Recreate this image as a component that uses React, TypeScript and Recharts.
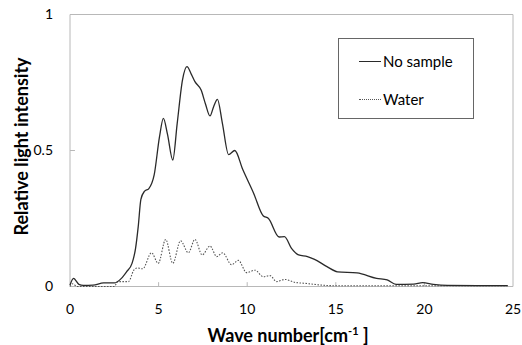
import * as React from "react";
import {
  LineChart,
  Line,
  XAxis,
  YAxis,
  ReferenceArea,
  ReferenceLine,
  Label
} from "recharts";

// wave number [cm-1] / relative intensity
const noSampleX = [
  0, 0.2, 0.5, 0.75, 1.3, 1.9, 2.5, 2.9, 3.2, 3.5, 3.7, 3.85, 4.0, 4.2, 4.45,
  4.75, 5.05, 5.27, 5.5, 5.8, 6.05, 6.35, 6.6, 6.85, 7.05, 7.4, 7.65, 7.9,
  8.1, 8.32, 8.6, 8.95, 9.3, 9.75, 10.35, 10.9, 11.2, 11.8, 12.1, 12.5, 12.9,
  13.4, 13.8, 14.5, 15.1, 16.2, 17.3, 17.9, 18.4, 19.4, 19.9, 20.5, 21.3, 23,
  24.7
];
const noSampleY = [
  0.005, 0.03, 0.008, 0.004, 0.005, 0.013, 0.013, 0.03, 0.055, 0.085, 0.14,
  0.22, 0.32, 0.35, 0.36, 0.41, 0.55, 0.618, 0.56, 0.465, 0.6, 0.76, 0.808,
  0.78, 0.753, 0.722, 0.67, 0.627, 0.66, 0.688, 0.6, 0.485, 0.5, 0.43, 0.345,
  0.26, 0.25, 0.182, 0.183, 0.14, 0.116, 0.11, 0.1, 0.073, 0.054, 0.05, 0.03,
  0.024, 0.008, 0.009, 0.014, 0.008, 0.004, 0.003, 0.003
];

const waterX = [
  0, 0.15, 0.4, 2.5, 2.7, 3.3, 3.6, 3.8, 4.1, 4.6, 4.98, 5.4, 5.8, 6.24, 6.68,
  7.05, 7.46, 7.9, 8.28, 8.62, 9.12, 9.5, 9.97, 10.44, 10.9, 11.29, 11.66,
  12.13, 12.7, 13.2, 14.85, 24.7
];
const waterY = [
  0, 0.01, 0, 0, 0.018, 0.018, 0.06, 0.068, 0.065, 0.124, 0.085, 0.173, 0.085,
  0.168, 0.124, 0.173, 0.116, 0.149, 0.11, 0.124, 0.08, 0.096, 0.051, 0.06,
  0.036, 0.04, 0.018, 0.026, 0.015, 0.012, 0.003, 0.003
];

const xTicks = [0, 5, 10, 15, 20, 25];
const yTicks = [0, 0.5, 1];
const xTickMarks = [5, 10, 15, 20];
const yTickMarks = [0.5];

const noSample = noSampleX.map((x, i) => ({ x, v: noSampleY[i] }));
const water = waterX.map((x, i) => ({ x, v: waterY[i] }));

const font = "Lato, 'Open Sans', sans-serif";
const frame = "#b8b8b8";

function XTitle(props: any) {
  const vb = props.viewBox;
  return (
    <text
      x={vb.x + vb.width / 2 - 3.5}
      y={vb.y + 55}
      textAnchor="middle"
      fontFamily={font}
      fontWeight="bold"
      fontSize={18}
      fill="#000"
    >
      <tspan>Wave number[cm</tspan>
      <tspan dy={-7} fontSize={11}>-1</tspan>
      <tspan dy={7}> ]</tspan>
    </text>
  );
}

function YTitle(props: any) {
  const vb = props.viewBox;
  const cx = 21;
  const cy = vb.y + vb.height / 2 - 4;
  return (
    <text
      x={cx}
      y={cy}
      transform={`rotate(-90 ${cx} ${cy})`}
      textAnchor="middle"
      dominantBaseline="central"
      fontFamily={font}
      fontWeight="bold"
      fontSize={18}
      fill="#000"
    >
      Relative light intensity
    </text>
  );
}

export default function App() {
  return (
    <div style={{ position: "absolute", left: 0, top: 0, width: 522, height: 345 }}>
      <LineChart
        width={522}
        height={345}
        margin={{ top: 14.5, right: 9, bottom: 28.5, left: 30 }}
      >
        <XAxis
          type="number"
          dataKey="x"
          domain={[0, 25]}
          ticks={xTicks}
          axisLine={false}
          tickLine={false}
          tickMargin={12}
          height={30}
          tick={{ fill: "#000", fontSize: 14, fontFamily: font }}
        >
          <Label content={XTitle} />
        </XAxis>
        <YAxis
          type="number"
          domain={[0, 1]}
          ticks={yTicks}
          axisLine={false}
          tickLine={false}
          tickMargin={11}
          width={40}
          tick={{ fill: "#000", fontSize: 14, fontFamily: font }}
        >
          <Label content={YTitle} />
        </YAxis>
        <ReferenceArea
          x1={0}
          x2={25}
          y1={0}
          y2={1}
          fill="none"
          stroke={frame}
          strokeWidth={1}
        />
        {xTickMarks.map((t) => (
          <ReferenceLine
            key={"x" + t}
            segment={[
              { x: t, y: 0 },
              { x: t, y: 0.016 }
            ]}
            stroke={frame}
          />
        ))}
        {yTickMarks.map((t) => (
          <ReferenceLine
            key={"y" + t}
            segment={[
              { x: 0, y: t },
              { x: 0.28, y: t }
            ]}
            stroke={frame}
          />
        ))}
        <Line
          data={water}
          dataKey="v"
          type="monotone"
          stroke="#555"
          strokeWidth={1.1}
          strokeDasharray="1.5 1.5"
          dot={false}
          isAnimationActive={false}
        />
        <Line
          data={noSample}
          dataKey="v"
          type="monotone"
          stroke="#2a2a2a"
          strokeWidth={1.3}
          dot={false}
          isAnimationActive={false}
        />
      </LineChart>
      <div
        style={{
          position: "absolute",
          left: 338,
          top: 38,
          width: 134,
          height: 79,
          border: "1px solid #666",
          background: "#fff",
          fontFamily: font,
          fontSize: 15,
          color: "#000"
        }}
      >
        <div style={{ position: "absolute", left: 20, top: 13, display: "flex", alignItems: "center", lineHeight: "18px" }}>
          <span style={{ display: "inline-block", width: 22, borderTop: "1.3px solid #2a2a2a", marginRight: 2 }} />
          <span>No sample</span>
        </div>
        <div style={{ position: "absolute", left: 20, top: 51, display: "flex", alignItems: "center", lineHeight: "18px" }}>
          <span style={{ display: "inline-block", width: 22, borderTop: "1.2px dotted #555", marginRight: 2 }} />
          <span>Water</span>
        </div>
      </div>
    </div>
  );
}
